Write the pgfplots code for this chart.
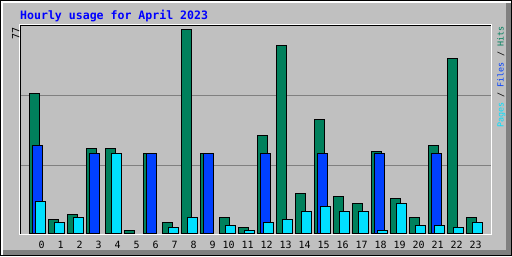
\documentclass[border=0pt]{standalone}
\usepackage{pgfplots}
\pgfplotsset{compat=1.18}
\usepackage{fontspec}
\newfontfamily\mono{DejaVu Sans Mono}
\definecolor{bggray}{HTML}{C0C0C0}
\definecolor{dkgray}{HTML}{808080}
\definecolor{hitcolor}{HTML}{00805C}
\definecolor{filecolor}{HTML}{0040FF}
\definecolor{pagecolor}{HTML}{00E0FF}
\definecolor{titleblue}{HTML}{0000FF}
\begin{document}
\begin{tikzpicture}[x=1bp,y=1bp]
\useasboundingbox (0,0) rectangle (512,256);
\fill[bggray] (0,0) rectangle (512,256);
\fill[white] (1,253) rectangle (511,255);
\fill[white] (1,1) rectangle (3,255);
\fill[dkgray] (3,1) rectangle (511,6);
\fill[dkgray] (506,1) rectangle (511,253);
\draw[black, line width=1bp] (0.5,0.5) rectangle (511.5,255.5);
\node[anchor=base west, inner sep=0pt, text=titleblue, font=\mono\bfseries\fontsize{11.6}{12}\selectfont] at (20,237) {Hourly usage for April 2023};
\begin{axis}[at={(21bp,23bp)}, anchor=south west, scale only axis,
  width=470bp, height=208bp,
  xmin=-0.8684, xmax=23.8684, ymin=0, ymax=78.79,
  axis line style={draw=none}, major tick length=0pt,
  ytick={25.6,52.2}, yticklabels={}, ymajorgrids,
  grid style={dkgray, line width=1bp},
  xtick={0,1,2,3,4,5,6,7,8,9},
  xticklabels={0,1,2,3,4,5,6,7,8,9},
  xticklabel style={font=\mono\fontsize{10}{10}\selectfont, anchor=base, yshift=-15.3bp, xshift=4bp},
  extra x ticks={10,11,12,13,14,15,16,17,18,19,20,21,22,23},
  extra x tick labels={10,11,12,13,14,15,16,17,18,19,20,21,22,23},
  extra x tick style={grid=none, xticklabel style={xshift=-3bp}},
  clip=false]
\addplot[ybar, bar width=9.4bp, bar shift=-3bp, fill=hitcolor, draw=black, line width=1bp] coordinates {
(0,53) (1,5) (2,7) (3,32) (4,32) (5,1) (6,30) (7,4) (8,77) (9,30) (10,6) (11,2)
(12,37) (13,71) (14,15) (15,43) (16,14) (17,11) (18,31) (19,13) (20,6) (21,33) (22,66) (23,6)};
\addplot[ybar, bar width=9.4bp, bar shift=0bp, fill=filecolor, draw=black, line width=1bp] coordinates {
(0,33) (3,30) (6,30) (9,30) (12,30) (15,30) (18,30) (21,30)};
\addplot[ybar, bar width=9.4bp, bar shift=3bp, fill=pagecolor, draw=black, line width=1bp] coordinates {
(0,12) (1,4) (2,6) (4,30) (7,2) (8,6) (10,3) (11,1) (12,4) (13,5) (14,8) (15,10)
(16,8) (17,8) (18,1) (19,11) (20,3) (21,3) (22,2) (23,4)};
\end{axis}
\draw[white, line width=1bp] (19.5,21.5) rectangle (491.5,231.5);
\draw[black, line width=1bp] (20,230.5) -- (491,230.5);
\draw[black, line width=1bp] (20.5,231) -- (20.5,22);
\node[rotate=90, anchor=base east, inner sep=0pt, font=\mono\fontsize{10}{10}\selectfont] at (19.3,228.7) {77};
\node[rotate=90, anchor=base west, inner sep=0pt, font=\mono\fontsize{8.4}{8.4}\selectfont] at (503.5,128.3) {\textcolor{pagecolor}{Pages} / \textcolor{filecolor}{Files} / \textcolor{hitcolor}{Hits}};
\end{tikzpicture}
\end{document}
